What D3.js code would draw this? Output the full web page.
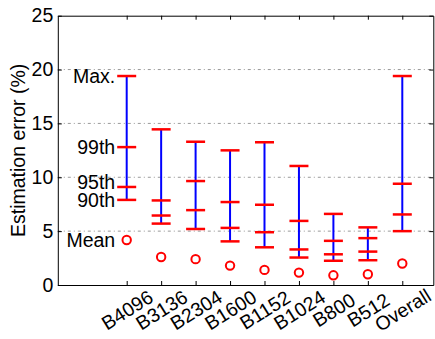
<!DOCTYPE html>
<html>
<head>
<meta charset="utf-8">
<script src="https://cdn.jsdelivr.net/npm/d3@7"></script>
<style>
  body { margin: 0; background: #fff; }
  svg { display: block; font-family: "Liberation Sans", Arial, sans-serif; }
</style>
</head>
<body>
<script>
let categories = ['B4096', 'B3136', 'B2304', 'B1600', 'B1152', 'B1024', 'B800', 'B512', 'Overall'];
let maxVals = [19.4, 14.45, 13.3, 12.5, 13.25, 11.05, 6.6, 5.35, 19.4];
let p99Vals = [12.8, 7.85, 9.65, 7.7, 7.45, 5.95, 4.1, 4.35, 9.4];
let p95Vals = [9.1, 6.45, 6.95, 5.3, 4.9, 3.3, 2.85, 3.1, 6.55];
let p90Vals = [7.9, 5.7, 5.2, 4.05, 3.5, 2.55, 2.25, 2.3, 5.0];
let meanVals = [4.18, 2.6, 2.4, 1.8, 1.4, 1.15, 0.9, 1.0, 2.0];
let yTicks = [0, 5, 10, 15, 20, 25];
let gridTicks = [5, 10, 15, 20];
let statLabels = ['Max.', '99th', '95th', '90th', 'Mean'];

let width = 435;
let height = 339;
let fontSize = 19.5;

let data = categories.map((c, i) => ({
  name: c,
  pos: i + 1,
  max: maxVals[i],
  p99: p99Vals[i],
  p95: p95Vals[i],
  p90: p90Vals[i],
  mean: meanVals[i]
}));

let xScale = d3.scaleLinear([-1, 9.9], [57.8, 433.3]);
let yScale = d3.scaleLinear([0, 25], [285, 15.7]);

let svg = d3.create('svg')
  .attr('width', width)
  .attr('height', height);

// dash-dot grid
svg.append('g')
  .selectAll('line')
  .data(gridTicks)
  .join('line')
  .attr('x1', xScale.range()[0])
  .attr('x2', xScale.range()[1])
  .attr('y1', d => yScale(d))
  .attr('y2', d => yScale(d))
  .attr('stroke', '#9a9a9a')
  .attr('stroke-width', 1)
  .attr('stroke-dasharray', '3,3,1,3');

let bars = svg.append('g')
  .selectAll('g')
  .data(data)
  .join('g');

bars.append('line')
  .attr('x1', d => xScale(d.pos))
  .attr('x2', d => xScale(d.pos))
  .attr('y1', d => yScale(d.p90))
  .attr('y2', d => yScale(d.max))
  .attr('stroke', '#0000ff')
  .attr('stroke-width', 2);

bars.selectAll('.cap')
  .data(d => [d.max, d.p99, d.p95, d.p90].map(v => ({pos: d.pos, v: v})))
  .join('line')
  .attr('class', 'cap')
  .attr('x1', d => xScale(d.pos) - 9.5)
  .attr('x2', d => xScale(d.pos) + 9.5)
  .attr('y1', d => yScale(d.v))
  .attr('y2', d => yScale(d.v))
  .attr('stroke', '#ff0000')
  .attr('stroke-width', 2.5);

bars.append('circle')
  .attr('cx', d => xScale(d.pos))
  .attr('cy', d => yScale(d.mean))
  .attr('r', 4.2)
  .attr('fill', 'none')
  .attr('stroke', '#ff0000')
  .attr('stroke-width', 2);

// stat labels next to first bar
let first = data[0];
let labelVals = [first.max, first.p99, first.p95, first.p90, first.mean];
let labelShift = [0, 0, -4.5, 0.5, 0];
svg.append('g')
  .selectAll('text')
  .data(statLabels)
  .join('text')
  .text(d => d)
  .attr('x', xScale(first.pos) - 11.5)
  .attr('y', (d, i) => yScale(labelVals[i]) + labelShift[i])
  .attr('dy', '0.35em')
  .attr('text-anchor', 'end')
  .attr('font-size', fontSize)
  .attr('fill', '#000');

// axes (box)
let catTicks = data.map(d => d.pos);

svg.append('g')
  .attr('transform', `translate(${xScale.range()[0]},0)`)
  .call(d3.axisLeft(yScale).tickValues(yTicks).tickSize(-4).tickSizeOuter(0).tickPadding(4.5))
  .call(g => g.selectAll('text').attr('font-size', fontSize).attr('font-family', null).attr('fill', '#000'));

svg.append('g')
  .attr('transform', `translate(${xScale.range()[1]},0)`)
  .call(d3.axisRight(yScale).tickValues(yTicks).tickSize(-4).tickSizeOuter(0).tickFormat(''));

svg.append('g')
  .attr('transform', `translate(0,${yScale(25)})`)
  .call(d3.axisTop(xScale).tickValues(catTicks).tickSize(-4).tickSizeOuter(0).tickFormat(''));

svg.append('g')
  .attr('transform', `translate(0,${yScale(0)})`)
  .call(d3.axisBottom(xScale).tickValues(catTicks).tickSize(-4).tickSizeOuter(0)
    .tickFormat(d => categories[d - 1]))
  .call(g => g.selectAll('text')
    .attr('font-size', fontSize)
    .attr('font-family', null)
    .attr('fill', '#000')
    .attr('text-anchor', 'middle')
    .attr('x', 0)
    .attr('y', 0)
    .attr('dy', '0.35em')
    .attr('transform', 'translate(0,25) rotate(-32)'));

svg.selectAll('.domain').attr('stroke', '#000');

svg.append('text')
  .text('Estimation error (%)')
  .attr('transform', 'rotate(-90)')
  .attr('x', -(yScale(0) + yScale(25)) / 2)
  .attr('y', 25)
  .attr('text-anchor', 'middle')
  .attr('font-size', fontSize)
  .attr('fill', '#000');

document.body.append(svg.node());
</script>
</body>
</html>
